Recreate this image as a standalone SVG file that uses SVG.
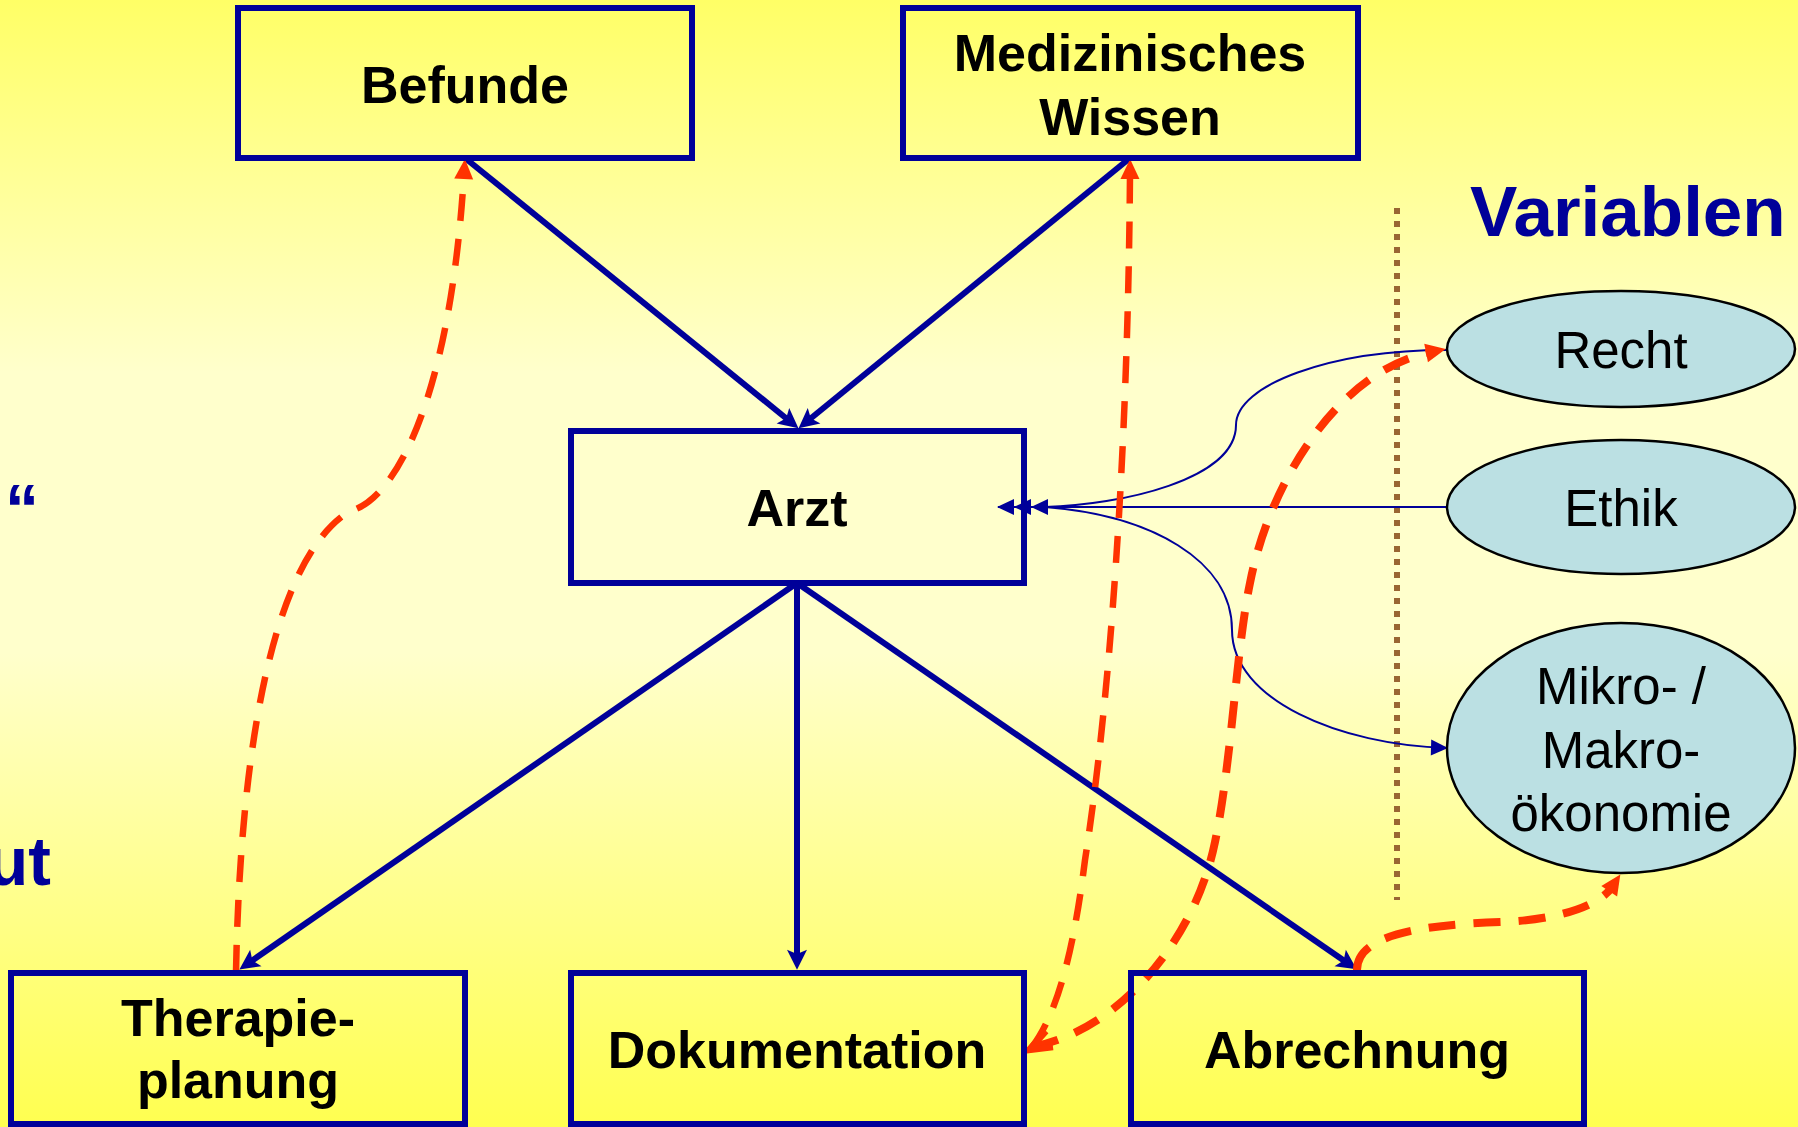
<svg xmlns="http://www.w3.org/2000/svg" width="1798" height="1127" viewBox="0 0 1798 1127">
<style>
.box{fill:none;stroke:#000099;stroke-width:6}
.lbl{font-family:"Liberation Sans",Arial,sans-serif;font-weight:bold;font-size:52px;fill:#000;text-anchor:middle}
.ell{fill:#BBE0E3;stroke:#000;stroke-width:2.5}
.elbl{font-family:"Liberation Sans",Arial,sans-serif;font-size:51px;fill:#000;text-anchor:middle}
.title{font-family:"Liberation Sans",Arial,sans-serif;font-weight:bold;font-size:68px;fill:#000099}
.thick{fill:none;stroke:#000099;stroke-width:6;marker-end:url(#blueHead)}
.thin{fill:none;stroke:#000099;stroke-width:2}
.red{fill:none;stroke:#FF3300;stroke-width:6.5;stroke-dasharray:27 18}
.red2{fill:none;stroke:#FF3300;stroke-width:8;stroke-dasharray:27 18}
</style>
<defs>
<linearGradient id="bg" x1="0" y1="0" x2="0" y2="1">
<stop offset="0" stop-color="#FFFF66"/>
<stop offset="0.33" stop-color="#FFFFCC"/>
<stop offset="0.58" stop-color="#FFFFCC"/>
<stop offset="1" stop-color="#FFFF50"/>
</linearGradient>
<marker id="blueHead" markerUnits="userSpaceOnUse" markerWidth="20" markerHeight="20" viewBox="0 0 19 19" refX="5" refY="9.5" orient="auto" overflow="visible">
<path d="M0,0 L19,9.5 L0,19 L4,9.5 z" fill="#000099"/>
</marker>
<marker id="thinHead" markerUnits="userSpaceOnUse" markerWidth="17" markerHeight="16" viewBox="0 0 17 16" refX="16" refY="8" orient="auto-start-reverse" overflow="visible">
<path d="M0,0 L17,8 L0,16 z" fill="#000099"/>
</marker>
<marker id="redHead" markerUnits="userSpaceOnUse" markerWidth="20" markerHeight="19" viewBox="0 0 20 19" refX="5" refY="9.5" orient="auto" overflow="visible">
<path d="M0,0 L20,9.5 L0,19 z" fill="#FF3300"/>
</marker>
</defs>
<rect x="0" y="0" width="1798" height="1127" fill="url(#bg)"/>

<text class="title" x="5" y="532">“</text>
<text class="title" x="51" y="885" text-anchor="end">ut</text>
<text class="title" x="1470" y="236" style="font-size:71px">Variablen</text>

<line x1="1397" y1="208" x2="1397" y2="900" stroke="#996633" stroke-width="6" stroke-dasharray="6 7"/>

<g id="connectors">
<path class="thick" d="M465,158 L787,419"/>
<path class="thick" d="M1130,158 L810,419"/>
<path class="thick" d="M797,583 L251.5,961"/>
<path class="thick" d="M797,583 L797,955"/>
<path class="thick" d="M797,583 L1344.5,961"/>
<path class="thin" d="M1447,507 L998,507" marker-end="url(#thinHead)"/>
<path class="thin" d="M1447,350 C1330,350 1236,385 1236,425 C1236,480 1120,505 1045,507 L1015,507" marker-end="url(#thinHead)"/>
<path class="thin" d="M1032,507 L1045,507 C1150,515 1232,560 1232,630 C1232,700 1340,745 1447,748" marker-start="url(#thinHead)" marker-end="url(#thinHead)"/>
<path class="red" d="M236,972 C240,760 270,560 350,511 C395,500 450,400 464,174" marker-end="url(#redHead)"/>
<path class="red" d="M1032,1047 C1060,1010 1075,940 1085,860 C1110,700 1128,450 1130,174" marker-end="url(#redHead)"/>
<path class="red2" d="M1032,1047 C1120,1030 1195,940 1215,842 C1232,760 1236,650 1250,583 C1270,480 1340,370 1431,352" marker-end="url(#redHead)"/>
<path class="red2" d="M1357,970 C1357,935 1420,925 1500,922 C1560,920 1600,905 1612,887" marker-end="url(#redHead)"/>
<path d="M1046,1031 L1029,1050 L1053,1047" fill="none" stroke="#FF3300" stroke-width="6.5"/>
</g>

<g id="befunde">
<rect class="box" x="238" y="8" width="454" height="150"/>
<text class="lbl" x="465" y="103">Befunde</text>
</g>
<g id="wissen">
<rect class="box" x="903" y="8" width="455" height="150"/>
<text class="lbl" x="1130" y="71">Medizinisches</text>
<text class="lbl" x="1130" y="135">Wissen</text>
</g>
<g id="arzt">
<rect class="box" x="571" y="431" width="453" height="152"/>
<text class="lbl" x="797" y="526">Arzt</text>
</g>
<g id="therapie">
<rect class="box" x="11" y="973" width="454" height="151"/>
<text class="lbl" x="238" y="1036">Therapie-</text>
<text class="lbl" x="238" y="1098">planung</text>
</g>
<g id="dokumentation">
<rect class="box" x="571" y="973" width="453" height="151"/>
<text class="lbl" x="797" y="1068">Dokumentation</text>
</g>
<g id="abrechnung">
<rect class="box" x="1131" y="973" width="453" height="151"/>
<text class="lbl" x="1357" y="1068">Abrechnung</text>
</g>
<g id="recht">
<ellipse class="ell" cx="1621" cy="349" rx="174" ry="58"/>
<text class="elbl" x="1621" y="368">Recht</text>
</g>
<g id="ethik">
<ellipse class="ell" cx="1621" cy="507" rx="174" ry="67"/>
<text class="elbl" x="1621" y="526">Ethik</text>
</g>
<g id="oekonomie">
<ellipse class="ell" cx="1621" cy="748" rx="174" ry="125"/>
<text class="elbl" x="1621" y="704">Mikro- /</text>
<text class="elbl" x="1621" y="768">Makro-</text>
<text class="elbl" x="1621" y="831">ökonomie</text>
</g>
</svg>
